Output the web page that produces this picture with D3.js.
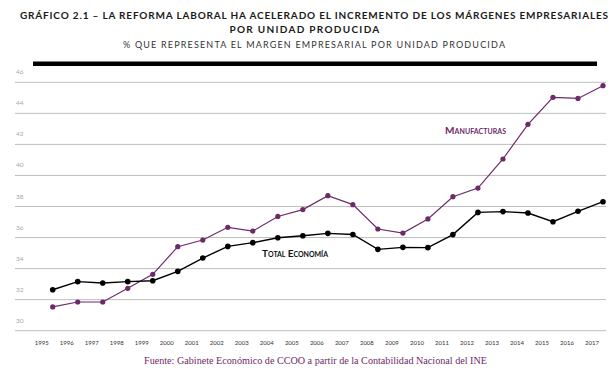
<!DOCTYPE html>
<html>
<head>
<meta charset="utf-8">
<script src="https://cdn.jsdelivr.net/npm/d3@7"></script>
<style>
  body { margin: 0; background: #fff; }
  svg { display: block; }
</style>
</head>
<body>
<div id="chart"></div>
<script>
// data
var years = ["1995","1996","1997","1998","1999","2000","2001","2002","2003","2004","2005",
  "2006","2007","2008","2009","2010","2011","2012","2013","2014","2015","2016","2017"];
var totalEconomia = [32.64, 33.16, 33.07, 33.16, 33.22, 33.82, 34.68, 35.43, 35.67, 35.99, 36.12,
  36.27, 36.20, 35.24, 35.37, 35.35, 36.19, 37.62, 37.67, 37.58, 37.02, 37.69, 38.31];
var manufacturas = [31.53, 31.85, 31.85, 32.73, 33.63, 35.41, 35.84, 36.66, 36.42, 37.36, 37.80,
  38.70, 38.12, 36.55, 36.29, 37.20, 38.63, 39.19, 41.06, 43.29, 45.03, 44.96, 45.78];
var yTicks = [30, 32, 34, 36, 38, 40, 42, 44, 46];

var svgWidth = 611;
var svgHeight = 376;
var purple = "#6d2a68";

var svg = d3.select("#chart")
  .append("svg")
  .attr("width", svgWidth)
  .attr("height", svgHeight);

// scales
var xScale = d3.scalePoint()
  .domain(years)
  .range([52.7, 603]);

var yScale = d3.scaleLinear()
  .domain([30, 46])
  .range([330.7, 82.3]);

// titles
svg.append("text")
  .attr("x", 20)
  .attr("y", 19)
  .attr("textLength", 588)
  .attr("lengthAdjust", "spacing")
  .style("font-family", "Lato, 'Open Sans', sans-serif")
  .style("font-weight", "bold")
  .style("font-size", "10px")
  .attr("fill", "#1a1a1a")
  .text("GRÁFICO 2.1 – LA REFORMA LABORAL HA ACELERADO EL INCREMENTO DE LOS MÁRGENES EMPRESARIALES");

svg.append("text")
  .attr("x", 305)
  .attr("y", 33)
  .attr("text-anchor", "middle")
  .style("font-family", "Lato, 'Open Sans', sans-serif")
  .style("font-weight", "bold")
  .style("font-size", "10px")
  .style("letter-spacing", "1.3px")
  .attr("fill", "#1a1a1a")
  .text("POR UNIDAD PRODUCIDA");

svg.append("text")
  .attr("x", 123)
  .attr("y", 48)
  .attr("textLength", 382)
  .attr("lengthAdjust", "spacing")
  .style("font-family", "Lato, 'Open Sans', sans-serif")
  .style("font-size", "9px")
  .attr("fill", "#333")
  .text("% QUE REPRESENTA EL MARGEN EMPRESARIAL POR UNIDAD PRODUCIDA");

// thick black bar under the header
svg.append("rect")
  .attr("x", 33)
  .attr("y", 61.5)
  .attr("width", 564)
  .attr("height", 4.5)
  .attr("fill", "#000");

// gridlines + y labels
svg.append("g")
  .selectAll("line")
  .data(yTicks)
  .enter()
  .append("line")
  .attr("x1", 15)
  .attr("x2", 606)
  .attr("y1", d => yScale(d))
  .attr("y2", d => yScale(d))
  .attr("stroke", "#bdbdbd")
  .attr("stroke-width", 1);

svg.append("g")
  .selectAll("text")
  .data(yTicks)
  .enter()
  .append("text")
  .attr("x", 16)
  .attr("y", d => yScale(d) - 8)
  .style("font-family", "Lato, sans-serif")
  .style("font-size", "6.5px")
  .attr("fill", "#a8a8a8")
  .text(d => d);

// x labels (sit a bit left of the points, like the original)
svg.append("g")
  .selectAll("text")
  .data(years)
  .enter()
  .append("text")
  .attr("x", d => xScale(d) - 11)
  .attr("y", 345)
  .attr("text-anchor", "middle")
  .style("font-family", "Lato, sans-serif")
  .style("font-size", "6px")
  .attr("fill", "#333")
  .text(d => d);

// lines + markers
function drawSeries(values, color, width, r) {
  var line = d3.line()
    .x((d, i) => xScale(years[i]))
    .y(d => yScale(d));

  svg.append("path")
    .datum(values)
    .attr("d", line)
    .attr("fill", "none")
    .attr("stroke", color)
    .attr("stroke-width", width);

  svg.append("g")
    .selectAll("circle")
    .data(values)
    .enter()
    .append("circle")
    .attr("cx", (d, i) => xScale(years[i]))
    .attr("cy", d => yScale(d))
    .attr("r", r)
    .attr("fill", color);
}

drawSeries(manufacturas, purple, 1.2, 2.6);
drawSeries(totalEconomia, "#000", 1.4, 2.8);

// series labels
svg.append("text")
  .attr("x", 445)
  .attr("y", 134)
  .attr("textLength", 61)
  .attr("lengthAdjust", "spacing")
  .style("font-family", "Lato, sans-serif")
  .style("font-weight", "bold")
  .style("font-size", "10px")
  .style("font-variant", "small-caps")
  .attr("fill", purple)
  .text("Manufacturas");

svg.append("text")
  .attr("x", 262)
  .attr("y", 257)
  .attr("textLength", 66)
  .attr("lengthAdjust", "spacing")
  .style("font-family", "Lato, sans-serif")
  .style("font-weight", "bold")
  .style("font-size", "10px")
  .style("font-variant", "small-caps")
  .attr("fill", "#111")
  .text("Total Economía");

// source
svg.append("text")
  .attr("x", 144)
  .attr("y", 364)
  .attr("textLength", 343)
  .attr("lengthAdjust", "spacingAndGlyphs")
  .style("font-family", "'Liberation Serif', 'DejaVu Serif', serif")
  .style("font-size", "10.5px")
  .attr("fill", purple)
  .text("Fuente: Gabinete Económico de CCOO a partir de la Contabilidad Nacional del INE");
</script>
</body>
</html>
